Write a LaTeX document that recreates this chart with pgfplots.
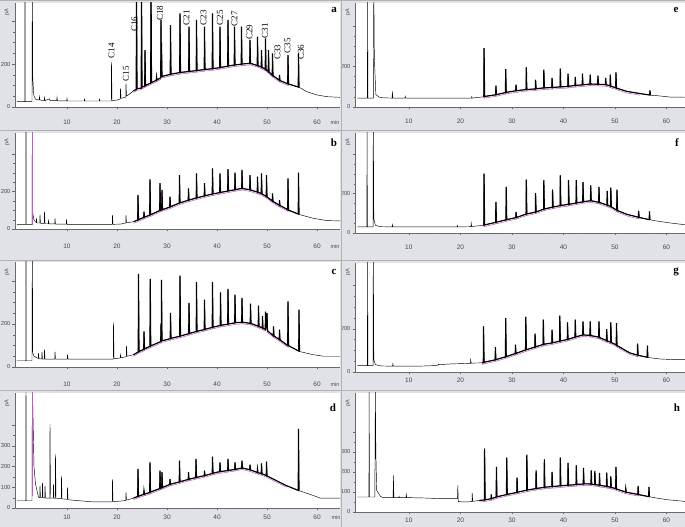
\documentclass[border=0pt]{standalone}
\usepackage{fontspec}
\setmainfont{Liberation Serif}
\newfontfamily\sansf{Liberation Sans}
\usepackage{pgfplots}
\usepackage{pgfplotstable}
\pgfplotsset{compat=1.18}
\definecolor{panelgray}{RGB}{224,226,231}
\definecolor{axgray}{RGB}{105,105,112}
\definecolor{integ}{RGB}{190,90,195}

\pgfplotstableread{
x y
0 25
1.55 25
1.6 600
1.65 25
3.0 25
3.07 600
3.15 140
3.35 55
3.7 36
4.4 32
4.5 48
4.6 32
5.45 30
5.5 44
5.6 30
6.5 38
6.6 30
7.95 30
8.0 45
8.1 29
9.95 28
10.0 40
10.1 28
13.45 28
13.5 36
13.6 28
16.45 28
16.5 36
16.6 28
18.85 28
18.9 211
19.0 30
20.0 32
20.65 38
20.7 87
20.8 40
21.75 46
21.8 110
21.9 50
22.6 62
23.3 75
23.85 82
23.9 600
24.0 85
24.85 88
24.9 600
25.0 92
25.55 98
25.6 265
25.7 100
26.75 112
26.8 600
26.9 114
27.85 124
27.9 141
28.0 126
28.75 136
28.8 405
28.85 145
28.9 300
29.0 142
30.65 152
30.7 381
30.8 153
32.55 160
32.6 436
32.7 161
34.35 165
34.4 374
34.5 166
35.85 169
35.9 405
36.0 170
37.45 174
37.5 374
37.6 175
39.05 178
39.1 436
39.2 179
40.55 183
40.6 374
40.7 184
42.15 190
42.2 405
42.3 191
43.45 195
43.5 374
43.6 196
44.85 199
44.9 374
45.0 200
46.55 203
46.6 312
46.7 203
48.05 193
48.1 327
48.2 192
48.85 186
48.9 265
49.0 184
49.65 176
49.7 319
49.8 174
50.25 165
50.3 265
50.4 163
51.05 148
51.1 250
51.2 146
52.45 125
52.5 149
52.6 123
54.15 108
54.2 242
54.3 107
56.25 93
56.3 250
56.4 92
58.0 71
60.0 56
62.0 48
64.6 45
}\tA

\pgfplotstableread{
x y
0 25
1.75 25
1.8 600
1.85 25
3.0 25
3.07 600
3.15 84
3.4 48
3.85 35
3.9 57
4.0 32
4.55 32
4.6 75
4.7 30
5.45 30
5.5 93
5.6 28
6.25 28
6.3 45
6.4 27
7.55 27
7.6 57
7.7 26
9.85 26
9.9 52
10.0 25
15.0 25
19.05 25
19.1 75
19.2 25
20.6 26
21.75 32
21.8 75
21.9 33
23.3 39
24.15 48
24.2 182
24.3 50
25.35 62
25.4 93
25.5 64
26.55 74
26.6 266
26.7 76
28.55 99
28.6 245
28.7 100
28.95 103
29.0 209
29.1 104
29.9 111
30.55 118
30.6 173
30.7 119
32.45 139
32.5 289
32.6 140
34.25 154
34.3 218
34.4 155
35.85 166
35.9 298
36.0 167
37.45 177
37.5 245
37.6 178
39.05 187
39.1 325
39.2 188
40.55 195
40.6 298
40.7 196
42.15 203
42.2 320
42.3 204
43.55 210
43.6 302
43.7 211
44.95 217
45.0 316
45.1 217
46.55 210
46.6 289
46.7 209
48.05 198
48.1 280
48.2 196
48.85 190
48.9 298
49.0 188
49.85 174
49.9 289
50.0 172
51.05 150
51.1 191
51.2 148
52.45 127
52.5 155
52.6 126
53.9 107
54.15 103
54.2 271
54.3 101
56.25 80
56.3 302
56.4 78
59.3 57
62.0 45
64.6 43
}\tB

\pgfplotstableread{
x y
0 29
1.75 29
1.8 600
1.85 29
3.0 29
3.07 600
3.15 65
3.4 50
4.25 40
4.3 65
4.4 38
4.95 38
5.0 71
5.1 37
5.45 37
5.5 82
5.6 37
7.55 37
7.6 71
7.7 37
10.05 37
10.1 57
10.2 37
19.25 37
19.3 208
19.4 38
20.65 42
20.7 57
20.8 43
21.85 48
21.9 99
22.0 50
23.3 57
24.25 70
24.3 433
24.4 72
25.35 82
25.4 166
25.5 84
26.6 96
26.65 409
26.75 98
28.75 118
28.8 200
28.85 120
28.9 405
29.0 122
29.9 127
30.65 132
30.7 251
30.8 133
32.55 143
32.6 425
32.7 144
34.35 155
34.4 298
34.5 156
35.85 165
35.9 394
36.0 166
37.45 174
37.5 313
37.6 175
39.05 184
39.1 394
39.2 185
40.65 193
40.7 347
40.8 194
42.15 199
42.2 363
42.3 200
43.55 205
43.6 336
43.7 206
44.95 208
45.0 321
45.1 208
46.65 203
46.7 295
46.8 202
48.25 190
48.3 285
48.4 188
49.05 182
49.1 236
49.2 180
49.65 175
49.7 257
49.75 174
50.0 250
50.1 168
51.25 146
51.3 189
51.4 144
52.45 128
52.5 174
52.6 126
53.9 104
54.15 101
54.2 305
54.3 99
56.35 74
56.4 267
56.5 72
59.3 57
61.3 50
64.6 50
}\tC

\pgfplotstableread{
x y
0 35
1.75 35
1.8 600
1.85 35
3.0 35
3.07 600
3.4 197
3.7 116
4.3 52
4.55 50
4.6 108
4.7 50
5.05 50
5.1 124
5.2 50
5.55 48
5.6 108
5.7 48
6.55 48
6.6 406
6.7 48
7.25 48
7.3 116
7.4 48
7.65 46
7.7 261
7.8 46
8.85 45
8.9 156
9.0 44
10.05 42
10.1 100
10.2 40
12.0 36
15.0 30
19.05 30
19.1 140
19.2 30
21.75 36
21.8 76
21.9 38
23.3 48
24.15 56
24.2 189
24.3 57
25.35 66
25.4 84
25.5 67
26.55 75
26.6 221
26.7 77
28.55 94
28.6 181
28.7 95
28.95 98
29.0 173
29.1 99
30.55 114
30.6 140
30.7 115
32.45 126
32.5 229
32.6 127
34.25 138
34.3 173
34.4 139
35.75 147
35.8 237
35.9 148
37.45 156
37.5 181
37.6 157
39.05 167
39.1 248
39.2 168
40.55 176
40.6 221
40.7 176
42.15 181
42.2 237
42.3 182
43.55 186
43.6 221
43.7 187
44.95 193
45.0 229
45.1 193
46.55 185
46.6 210
46.7 184
48.05 172
48.1 189
48.2 171
48.85 166
48.9 216
49.0 165
49.85 157
49.9 224
50.0 155
51.9 132
53.9 108
56.25 85
56.3 382
56.4 84
59.3 60
60.6 48
64.6 48
}\tD

\pgfplotstableread{
x y
0 44
1.95 44
2.0 600
2.05 44
3.1 44
3.2 600
3.3 249
3.45 150
3.6 61
4.2 49
5.0 45
6.75 44
6.8 77
6.9 44
9.25 44
9.3 52
9.4 44
22.15 44
22.2 50
22.3 44
24.55 50
24.6 290
24.7 52
26.85 60
26.9 105
27.0 61
28.75 71
28.8 187
28.9 72
30.75 80
30.8 110
30.9 80
32.75 86
32.8 195
32.9 86
34.55 89
34.6 134
34.7 90
36.15 94
36.2 184
36.3 94
37.75 96
37.8 143
37.9 96
39.35 99
39.4 189
39.5 99
40.85 101
40.9 164
41.0 102
42.25 106
42.3 148
42.4 106
43.65 109
43.7 164
43.8 109
45.15 113
45.2 159
45.3 113
46.65 112
46.7 154
46.8 112
48.15 110
48.2 143
48.3 110
49.05 104
49.1 159
49.2 102
50.15 95
50.2 170
50.3 93
52.3 77
54.9 66
56.75 59
56.8 82
56.9 58
58.1 56
60.7 49
63.6 48
}\tE

\pgfplotstableread{
x y
0 31
1.85 31
1.9 600
1.95 31
3.05 31
3.1 600
3.2 73
3.5 39
4.5 32
6.75 31
6.8 42
6.9 31
19.35 31
19.4 39
19.5 31
22.05 32
22.1 51
22.2 33
24.5 39
24.55 40
24.6 302
24.7 41
26.85 54
26.9 158
27.0 55
28.85 67
28.9 234
29.0 68
30.75 78
30.8 107
30.9 79
32.75 96
32.8 271
32.9 97
34.55 106
34.6 203
34.7 107
36.15 121
36.2 268
36.3 122
37.85 131
37.9 220
38.0 132
39.35 139
39.4 293
39.5 140
40.95 145
41.0 268
41.1 146
42.45 152
42.5 268
42.6 153
43.75 158
43.8 259
43.9 159
45.25 164
45.3 242
45.4 164
46.85 156
46.9 234
47.0 155
48.45 142
48.5 214
48.6 140
49.15 135
49.2 231
49.3 133
50.35 116
50.4 220
50.5 114
52.3 95
54.55 80
54.6 112
54.7 79
56.65 68
56.7 110
56.8 67
58.1 61
60.7 51
63.6 42
}\tF

\pgfplotstableread{
x y
0 29
1.95 29
2.0 600
2.05 29
3.05 29
3.1 600
3.2 57
3.5 34
4.5 28
6.85 27
6.9 38
7.0 27
12.0 27
15.65 30
15.7 36
15.8 34
18.0 37
21.95 40
22.0 57
22.1 41
24.2 42
24.45 44
24.5 211
24.6 45
26.75 56
26.8 115
26.9 57
28.75 70
28.8 249
28.9 71
30.65 85
30.7 126
30.8 86
32.65 102
32.7 254
32.8 103
34.45 115
34.5 177
34.6 116
36.05 127
36.1 242
36.2 128
37.75 134
37.8 195
37.9 135
39.25 142
39.3 260
39.4 143
40.75 150
40.8 229
40.9 151
42.25 161
42.3 242
42.4 162
43.75 171
43.8 234
43.9 171
45.15 169
45.2 234
45.3 168
46.85 161
46.9 234
47.0 159
48.35 145
48.4 198
48.5 143
49.15 138
49.2 229
49.3 136
50.25 125
50.3 226
50.4 122
52.9 88
54.35 78
54.4 131
54.5 77
56.25 68
56.3 122
56.4 67
58.8 60
61.4 57
63.6 57
}\tG

\pgfplotstableread{
x y
0 75
2.25 75
2.3 600
2.35 75
3.4 75
3.5 600
3.6 290
3.75 108
4.5 78
5.0 72
6.95 72
7.0 183
7.1 72
8.05 72
8.1 78
8.2 72
9.45 72
9.5 88
9.6 72
13.0 70
16.0 67
19.45 67
19.5 133
19.6 52
21.0 50
22.25 52
22.3 95
22.4 53
23.7 58
24.65 60
24.7 317
24.8 61
25.95 66
26.0 88
26.1 67
26.95 75
27.0 225
27.1 76
28.95 87
29.0 272
29.1 88
30.95 98
31.0 172
31.1 99
32.85 109
32.9 287
33.0 110
34.65 117
34.7 208
34.8 118
36.25 123
36.3 263
36.4 124
37.75 127
37.8 200
37.9 127
39.35 131
39.4 272
39.5 131
40.85 134
40.9 245
41.0 134
42.45 137
42.5 233
42.6 138
43.85 140
43.9 220
44.0 141
45.35 140
45.4 208
45.5 139
46.05 137
46.1 205
46.2 137
46.95 134
47.0 195
47.1 133
48.35 128
48.4 197
48.5 127
49.15 124
49.2 178
49.3 123
50.15 117
50.2 225
50.3 115
52.05 100
52.1 117
52.2 99
54.45 88
54.5 130
54.6 87
56.55 77
56.6 125
56.7 76
59.9 62
63.6 53
}\tH

\pgfplotsset{
 panel/.style={
  scale only axis, axis lines*=left, anchor=south west,
  axis background/.style={fill=white},
  axis line style={axgray, line width=0.4pt},
  every tick/.style={axgray, line width=0.3pt},
  tick align=outside, major tick length=2.5pt, minor tick length=1.5pt,
  xtick={10,20,30,40,50,60}, minor x tick num=4,
  ytick={0,200,400}, yticklabels={0,200,}, minor y tick num=3,
  tick label style={font=\sansf\fontsize{6.5}{6.5}\selectfont, text=axgray!70!black},
  yticklabel style={font=\sansf\fontsize{5.8}{5.8}\selectfont, xshift=1.5pt},
  /pgf/number format/assume math mode=true,
  ymin=0, clip mode=individual,
 },
 leftp/.style={panel, width=325pt, xmin=-0.4, xmax=64.6},
 rightp/.style={panel, width=330pt, xmin=-0.45, xmax=63.6},
 dlike/.style={ytick={0,100,200,300,400}, yticklabels={0,100,200,300,}, minor y tick num=1},
 trace/.style={black, line width=0.45pt},
 hump/.style={black, line width=1.15pt, restrict x to domain=23:57.5},
 mag/.style={integ, line width=0.5pt, yshift=-1.6pt, restrict x to domain=23:55.5},
}

\begin{document}
\begin{tikzpicture}[x=1pt,y=1pt]
\useasboundingbox (0,0) rectangle (685,527);
\fill[panelgray] (0,0) rectangle (685,527);

% a
\begin{axis}[leftp, at={(15pt,420pt)}, height=104pt, ymax=484, xticklabel style={yshift=-7pt}]
\addplot[mag] table {\tA};
\addplot[trace] table {\tA};
\addplot[hump] table {\tA};
\begin{scope}[every node/.style={rotate=90, anchor=west, inner sep=0pt, font=\fontsize{9}{9}\selectfont}]
\node at (axis cs:18.9,226) {C14};
\node at (axis cs:21.8,118) {C15};
\node at (axis cs:23.5,350) {C16};
\node at (axis cs:28.6,400) {C18};
\node at (axis cs:33.9,380) {C21};
\node at (axis cs:37.3,380) {C23};
\node at (axis cs:40.6,380) {C25};
\node at (axis cs:43.5,374) {C27};
\node at (axis cs:46.5,312) {C29};
\node at (axis cs:49.6,319) {C31};
\node at (axis cs:52.1,219) {C33};
\node at (axis cs:54.1,250) {C35};
\node at (axis cs:56.8,219) {C36};
\end{scope}
\end{axis}

% b
\begin{axis}[leftp, at={(15pt,298pt)}, height=96pt, ymax=514, xticklabel style={yshift=-9pt}]
\addplot[mag] table {\tB};
\addplot[trace] table {\tB};
\addplot[hump] table {\tB};
\addplot[integ, line width=0.9pt] coordinates {(3.07,20) (3.07,600)};
\end{axis}

% c
\begin{axis}[leftp, at={(15pt,160pt)}, height=105pt, ymax=488, xticklabel style={yshift=-9pt}]
\addplot[mag] table {\tC};
\addplot[trace] table {\tC};
\addplot[hump] table {\tC};
\end{axis}

% d
\begin{axis}[leftp, dlike, at={(15pt,19pt)}, height=115pt, ymax=556, xticklabel style={yshift=-1pt}]
\addplot[mag] table {\tD};
\addplot[trace] table {\tD};
\addplot[hump] table {\tD};
\addplot[integ, line width=0.9pt] coordinates {(3.07,60) (3.07,600)};
\end{axis}

% e
\begin{axis}[rightp, at={(355pt,420pt)}, height=104pt, ymax=512, xticklabel style={yshift=-6pt}]
\addplot[mag] table {\tE};
\addplot[trace] table {\tE};
\addplot[hump] table {\tE};
\end{axis}

% f
\begin{axis}[rightp, at={(355pt,294pt)}, height=100pt, ymax=508, xticklabel style={yshift=-6pt}]
\addplot[mag] table {\tF};
\addplot[trace] table {\tF};
\addplot[hump] table {\tF};
\end{axis}

% g
\begin{axis}[rightp, at={(355pt,155pt)}, height=109pt, ymax=503, xticklabel style={yshift=0pt}]
\addplot[mag] table {\tG};
\addplot[trace] table {\tG};
\addplot[hump] table {\tG};
\end{axis}

% h
\begin{axis}[rightp, dlike, at={(355pt,15pt)}, height=119pt, ymax=595, xticklabel style={yshift=0pt}]
\addplot[mag] table {\tH};
\addplot[trace] table {\tH};
\addplot[hump] table {\tH};
\end{axis}

% separators
\draw[gray!60, line width=0.8pt] (0,397)--(685,397) (0,267)--(685,267) (0,137)--(685,137) (341,0)--(341,527);
\draw[gray!60, line width=0.8pt] (0,526.6)--(685,526.6);

% letters
\begin{scope}[every node/.style={font=\bfseries\fontsize{11}{11}\selectfont, inner sep=0pt}]
\node at (334,517) {a};
\node at (334,384) {b};
\node at (334,255) {c};
\node at (333,119) {d};
\node at (676,517) {e};
\node at (677,384) {f};
\node at (676,255) {g};
\node at (677,119) {h};
\end{scope}

% units
\begin{scope}[every node/.style={font=\sansf\fontsize{5.5}{5.5}\selectfont, text=axgray!70!black, inner sep=0pt}]
\node[rotate=90] at (7,515) {pA};
\node[rotate=90] at (7,385) {pA};
\node[rotate=90] at (7,255) {pA};
\node[rotate=90] at (7,124) {pA};
\node[rotate=90] at (348,515) {pA};
\node[rotate=90] at (348,385) {pA};
\node[rotate=90] at (348,255) {pA};
\node[rotate=90] at (348,124) {pA};
\node at (335,404) {min};
\node at (335,280) {min};
\node at (335,142) {min};
\node at (336,9) {min};
\end{scope}
\end{tikzpicture}
\end{document}
